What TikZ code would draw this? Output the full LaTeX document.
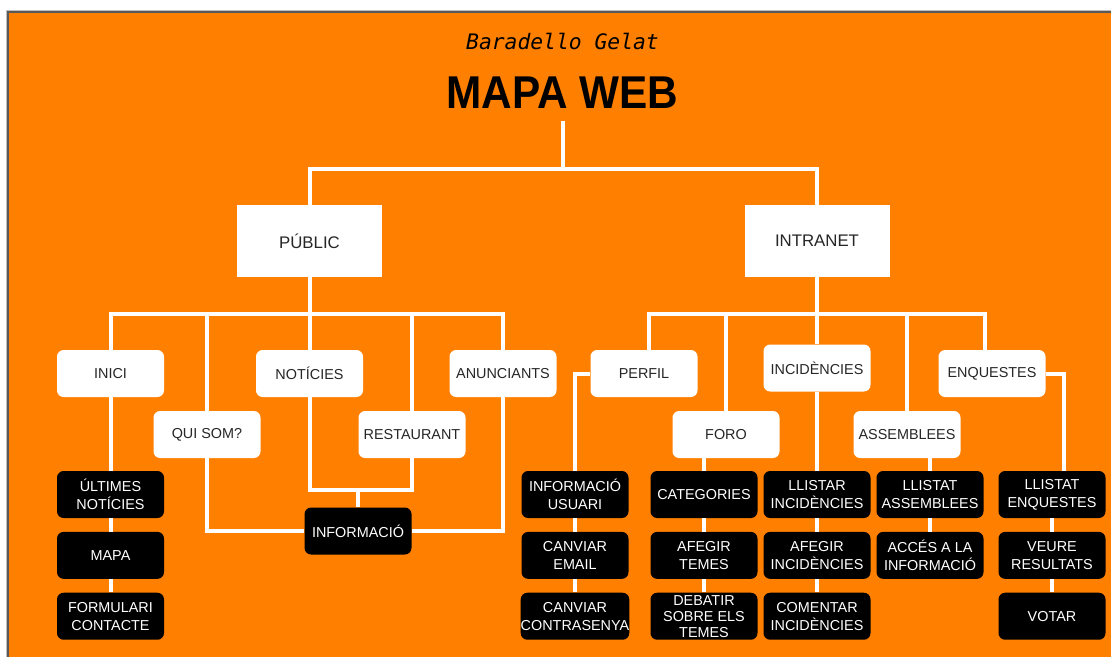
\documentclass[tikz,border=0pt]{standalone}
\usepackage{fontspec}
\setmainfont{Liberation Sans}
\newfontfamily\brandfont{DejaVu Sans Mono}[ItalicFont={DejaVu Sans Mono Oblique}]
\usepackage{tikz}
\usetikzlibrary{positioning}

\definecolor{bgorange}{RGB}{255,128,0}

\begin{document}
\begin{tikzpicture}[
                    x=0.75pt, y=-0.75pt,
                    node distance=10pt and 10pt,
                    every node/.style={align=center, font=\fontsize{10.8pt}{13.3pt}\selectfont},
                    box/.style={rounded corners=5pt, minimum width=80.25pt, minimum height=35.25pt, inner sep=0pt, text centered},
                    area/.style={fill=white, text=black!85, minimum width=108.75pt, minimum height=54pt, inner sep=0pt, font=\fontsize{12.6pt}{15pt}\selectfont},
                    menu/.style={box, fill=white, text=black!85},
                    leaf/.style={box, fill=black, text=white},
                    wire/.style={draw=white, line width=3pt}
                ]

                    \useasboundingbox (0,0) rectangle (1111,657);

                    % Background
                    \fill[black!25] (6,10) rectangle (1111,657);
                    \fill[black!65] (7,11) rectangle (1111,657);
                    \fill[bgorange] (8.5,12.5) rectangle (1111,657);

                    % Header
                    \node (brand) [font=\brandfont\itshape\fontsize{16pt}{18pt}\selectfont, anchor=base] at (562.5,49) {Baradello Gelat};
                    \node (map) [font=\bfseries\fontsize{34.5pt}{40pt}\selectfont, anchor=base] at (562.5,108) {\scalebox{0.92}[1]{MAPA WEB}};
                    \coordinate (root) at (562.5,121);
                    \coordinate (split) at (562.5,168.5);

                    % Areas
                    \node (pub) [area] at (309.5,241) {PÚBLIC};
                    \node (intra) [area] at (817,241) {INTRANET};
                    \coordinate (pubbus) at (309.5,314);
                    \coordinate (intrabus) at (817,314);

                    % Public pages
                    \node (inici) [menu] at (110.5,373.5) {INICI};
                    \node (noticies) [menu] at (309.5,373.5) {NOTÍCIES};
                    \node (anunc) [menu] at (503,373.5) {ANUNCIANTS};
                    \node (quisom) [menu] at (207,434.5) {QUI SOM?};
                    \node (restaurant) [menu] at (412,434.5) {RESTAURANT};

                    \node (ultimes) [leaf] at (110.5,494.5) {ÚLTIMES\\NOTÍCIES};
                    \node (mapa) [leaf, below=of ultimes] {MAPA};
                    \node (formulari) [leaf, below=of mapa] {FORMULARI\\CONTACTE};
                    \node (info) [leaf] at (358,531) {INFORMACIÓ};
                    \coordinate (infobus) at (358,489.5);

                    % Intranet pages
                    \node (perfil) [menu] at (644,373.5) {PERFIL};
                    \node (incid) [menu] at (817,368) {INCIDÈNCIES};
                    \node (enq) [menu] at (992,373.5) {ENQUESTES};
                    \node (foro) [menu] at (726,434.5) {FORO};
                    \node (assem) [menu] at (907,434.5) {ASSEMBLEES};

                    \node (usuari) [leaf] at (575,494.5) {INFORMACIÓ\\USUARI};
                    \node (email) [leaf, below=of usuari] {CANVIAR\\EMAIL};
                    \node (contrasenya) [leaf, below=of email] {CANVIAR\\CONTRASENYA};
                    \node (categories) [leaf] at (704,494.5) {CATEGORIES};
                    \node (temes) [leaf, below=of categories] {AFEGIR\\TEMES};
                    \node (debatir) [leaf, below=of temes, font=\fontsize{10.8pt}{12pt}\selectfont] {DEBATIR\\SOBRE ELS\\TEMES};
                    \node (llistinc) [leaf] at (817,494.5) {LLISTAR\\INCIDÈNCIES};
                    \node (afeginc) [leaf, below=of llistinc] {AFEGIR\\INCIDÈNCIES};
                    \node (comentinc) [leaf, below=of afeginc] {COMENTAR\\INCIDÈNCIES};
                    \node (llistassem) [leaf] at (930,494.5) {LLISTAT\\ASSEMBLEES};
                    \node (acces) [leaf, below=of llistassem] {ACCÉS A LA\\INFORMACIÓ};
                    \node (llistenq) [leaf] at (1052,494.5) {LLISTAT\\ENQUESTES};
                    \node (veure) [leaf, below=of llistenq] {VEURE\\RESULTATS};
                    \node (votar) [leaf, below=of veure] {VOTAR};

                    % Wires (top)
                    \draw[wire] (root) -- (split);
                    \draw[wire] (pub.north) |- (split) -| (intra.north);

                    % Wires (public)
                    \draw[wire] (pub.south) -- (pubbus);
                    \draw[wire] (inici.north) |- (pubbus) -| (anunc.north);
                    \draw[wire] (quisom.north) -- (quisom.north |- pubbus);
                    \draw[wire] (noticies.north) -- (pubbus);
                    \draw[wire] (restaurant.north) -- (restaurant.north |- pubbus);
                    \draw[wire] (inici.south) -- (ultimes.north);
                    \draw[wire] (ultimes.south) -- (mapa.north);
                    \draw[wire] (mapa.south) -- (formulari.north);
                    \draw[wire] (quisom.south) |- (info.west);
                    \draw[wire] (anunc.south) |- (info.east);
                    \draw[wire] (noticies.south) |- (infobus) -| (restaurant.south);
                    \draw[wire] (infobus) -- (info.north);

                    % Wires (intranet)
                    \draw[wire] (intra.south) -- (incid.north);
                    \draw[wire] ([xshift=3.75pt]perfil.north) |- (intrabus) -| ([xshift=-5.25pt]enq.north);
                    \draw[wire] (foro.north) -- (foro.north |- intrabus);
                    \draw[wire] (assem.north) -- (assem.north |- intrabus);
                    \draw[wire] (perfil.west) -| (usuari.north);
                    \draw[wire] (enq.east) -| ([xshift=9pt]llistenq.north);
                    \draw[wire] (foro.south -| categories.north) -- (categories.north);
                    \draw[wire] (incid.south) -- (llistinc.north);
                    \draw[wire] (assem.south -| llistassem.north) -- (llistassem.north);
                    \draw[wire] (usuari.south) -- (email.north);
                    \draw[wire] (email.south) -- (contrasenya.north);
                    \draw[wire] (categories.south) -- (temes.north);
                    \draw[wire] (temes.south) -- (debatir.north);
                    \draw[wire] (llistinc.south) -- (afeginc.north);
                    \draw[wire] (afeginc.south) -- (comentinc.north);
                    \draw[wire] (llistassem.south) -- (acces.north);
                    \draw[wire] (llistenq.south) -- (veure.north);
                    \draw[wire] (veure.south) -- (votar.north);

                \end{tikzpicture}
\end{document}
